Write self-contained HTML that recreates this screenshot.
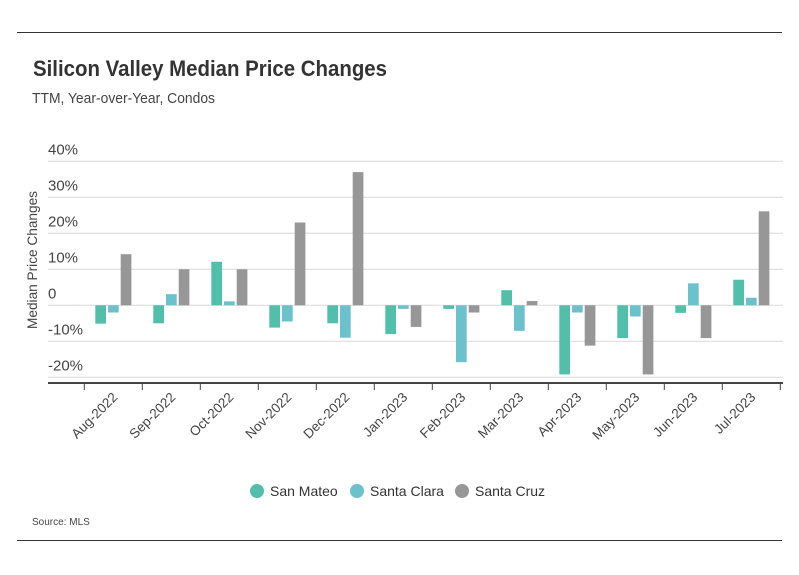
<!DOCTYPE html>
<html><head><meta charset="utf-8"><style>
body{margin:0;background:#fff;font-family:"Liberation Sans",sans-serif;color:#333}
#wrap{position:relative;width:799px;height:575px;overflow:hidden}
</style></head><body><div id="wrap">
<svg id="svg" width="799" height="575" xmlns="http://www.w3.org/2000/svg">
<line x1="17" y1="32.5" x2="782" y2="32.5" stroke="#333" stroke-width="1"/>
<line x1="17" y1="540.5" x2="782" y2="540.5" stroke="#333" stroke-width="1"/>
<text x="33" y="76" font-size="22" font-weight="bold" fill="#333" textLength="354" lengthAdjust="spacingAndGlyphs">Silicon Valley Median Price Changes</text>
<text x="32" y="103" font-size="14.5" fill="#444" textLength="183" lengthAdjust="spacingAndGlyphs">TTM, Year-over-Year, Condos</text>
<text transform="translate(37,260) rotate(-90)" text-anchor="middle" font-size="14" fill="#444" textLength="138" lengthAdjust="spacingAndGlyphs">Median Price Changes</text>
<g id="grid"></g><g id="bars"></g><g id="xaxis"></g>
<g>
<g><circle cx="257" cy="491" r="7" fill="#52bfab"/><text x="270" y="496" font-size="14" fill="#333">San Mateo</text></g>
<g><circle cx="357" cy="491" r="7" fill="#6bc1cc"/><text x="370" y="496" font-size="14" fill="#333">Santa Clara</text></g>
<g><circle cx="462" cy="491" r="7" fill="#979797"/><text x="475" y="496" font-size="14" fill="#333">Santa Cruz</text></g>
</g>
<text x="32" y="525" font-size="10" fill="#444">Source: MLS</text>
</svg></div>
<script>
const categories=["Aug-2022","Sep-2022","Oct-2022","Nov-2022","Dec-2022","Jan-2023","Feb-2023","Mar-2023","Apr-2023","May-2023","Jun-2023","Jul-2023"];
const sanMateo=[-5.1,-5,12.1,-6.2,-5,-8,-1,4.2,-19.2,-9.1,-2.1,7.1];
const santaClara=[-2,3.1,1.1,-4.5,-9,-1,-15.8,-7.1,-2,-3.1,6.1,2.1];
const santaCruz=[14.2,10,10,23,37,-6,-2,1.2,-11.2,-19.2,-9.1,26.1];
const yTicks=[40,30,20,10,0,-10,-20];
const yTickLabels=["40%","30%","20%","10%","0","-10%","-20%"];
const NS="http://www.w3.org/2000/svg";
const svg=document.getElementById('svg');
const x0=48,x1=783,tick0=84.3,step=58;
function y(v){return 305.3-v*3.6;}
function cx(i){return tick0+step/2+step*i;}
function mk(t,a,p){const e=document.createElementNS(NS,t);for(const k in a)e.setAttribute(k,a[k]);p.appendChild(e);return e;}
const grid=document.getElementById('grid');
yTicks.forEach((v,i)=>{
 const l=mk('line',{x1:x0,x2:x1,y1:y(v),y2:y(v),stroke:'#d9d9d9','stroke-width':1},grid);
 
 
 const t=mk('text',{x:x0,y:y(v)-7,'font-size':15,fill:'#444'},grid);
 t.textContent=yTickLabels[i];
 
 
});
const bars=document.getElementById('bars');
const series=[[sanMateo,'#52bfab','san-mateo'],[santaClara,'#6bc1cc','santa-clara'],[santaCruz,'#979797','santa-cruz']];
categories.forEach((c,i)=>{
 series.forEach((s,j)=>{
  const v=s[0][i];const bx=cx(i)-18+j*12.7;
  const r=mk('rect',{x:bx,y:Math.min(y(v),y(0)),width:10.7,height:Math.abs(y(v)-y(0)),fill:s[1]},bars);
  
  
 });
});
const xa=document.getElementById('xaxis');
const ax=mk('line',{x1:x0,x2:x1,y1:383,y2:383,stroke:'#444','stroke-width':2},xa);


for(let i=0;i<=categories.length;i++){
 const t=mk('line',{x1:tick0+step*i,x2:tick0+step*i,y1:383,y2:390,stroke:'#444','stroke-width':1},xa);
 
 
}
categories.forEach((c,i)=>{
 const px=cx(i)+5,py=398;
 const t=mk('text',{x:px,y:py,'font-size':13.5,fill:'#444','text-anchor':'end',transform:`rotate(-45 ${px} ${py})`},xa);
 t.textContent=c;
 
 
});
</script></body></html>
